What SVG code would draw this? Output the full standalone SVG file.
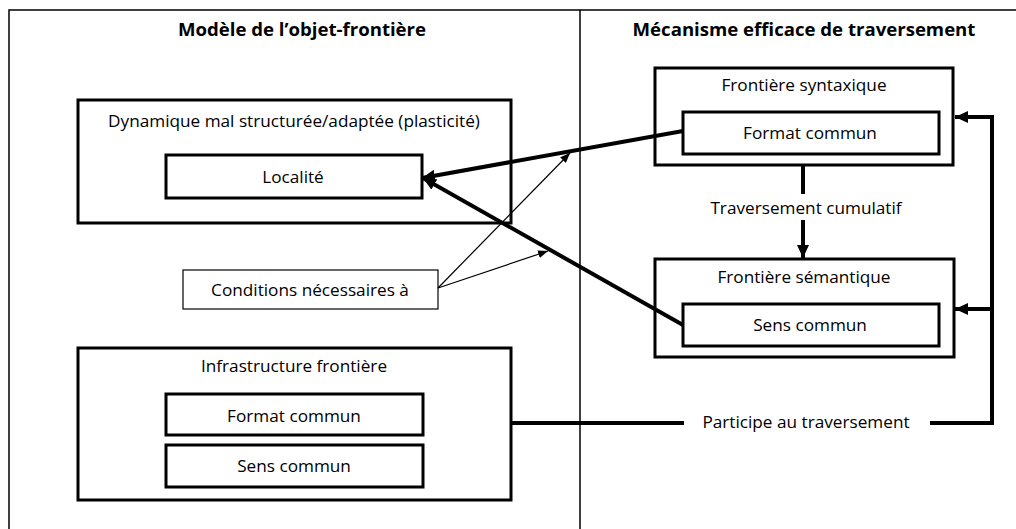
<svg xmlns="http://www.w3.org/2000/svg" width="1016" height="529" viewBox="0 0 1016 529">
  <style>
    .lbl { font-family: "Open Sans", "Liberation Sans", sans-serif; font-size: 17.2px; fill: #000; text-anchor: middle; }
    .ttl { font-family: "Open Sans", "Liberation Sans", sans-serif; font-size: 18.6px; font-weight: bold; fill: #000; text-anchor: middle; }
    .box { fill: #fff; stroke: #000; stroke-width: 3; }
    .thin { fill: #fff; stroke: #000; stroke-width: 1.2; }
    .frame { fill: none; stroke: #000; stroke-width: 1.5; }
    .heavy { fill: none; stroke: #000; stroke-width: 4; }
    .light { fill: none; stroke: #000; stroke-width: 1.2; }
  </style>
  <defs>
    <marker id="headBig" markerUnits="userSpaceOnUse" markerWidth="13" markerHeight="12" refX="13" refY="6" orient="auto">
      <path d="M0,0 L13,6 L0,12 z" fill="#000"/>
    </marker>
    <marker id="headSmall" markerUnits="userSpaceOnUse" markerWidth="10" markerHeight="8" refX="10" refY="4" orient="auto">
      <path d="M0,0 L10,4 L0,8 z" fill="#000"/>
    </marker>
  </defs>

  <rect width="1016" height="529" fill="#fff"/>

  <!-- two-column frame -->
  <g id="frame">
    <path class="frame" d="M9,529 V10 H1016"/>
    <line class="frame" x1="580" y1="10" x2="580" y2="529"/>
    <text class="ttl" x="302" y="36">Modèle de l’objet-frontière</text>
    <text class="ttl" x="804" y="36">Mécanisme efficace de traversement</text>
  </g>

  <!-- left column -->
  <g id="dynamique">
    <rect class="box" x="78" y="100" width="433" height="123"/>
    <text class="lbl" x="294" y="127">Dynamique mal structurée/adaptée (plasticité)</text>
  </g>
  <g id="localite">
    <rect class="box" x="166" y="155" width="256" height="43"/>
    <text class="lbl" x="293" y="183">Localité</text>
  </g>
  <g id="conditions">
    <rect class="thin" x="183" y="270" width="255" height="39"/>
    <text class="lbl" x="310" y="296">Conditions nécessaires à</text>
  </g>
  <g id="infrastructure">
    <rect class="box" x="78" y="348" width="433" height="152"/>
    <text class="lbl" x="294" y="372">Infrastructure frontière</text>
  </g>
  <g id="infra-format">
    <rect class="box" x="166" y="394" width="257" height="41"/>
    <text class="lbl" x="294" y="422">Format commun</text>
  </g>
  <g id="infra-sens">
    <rect class="box" x="166" y="445" width="257" height="42"/>
    <text class="lbl" x="294" y="472">Sens commun</text>
  </g>

  <!-- right column -->
  <g id="syntaxique">
    <rect class="box" x="655" y="68" width="298" height="97"/>
    <text class="lbl" x="804" y="91">Frontière syntaxique</text>
  </g>
  <g id="syntaxique-format">
    <rect class="box" x="683" y="112" width="256" height="42"/>
    <text class="lbl" x="810" y="139">Format commun</text>
  </g>
  <g id="semantique">
    <rect class="box" x="655" y="259" width="299" height="98"/>
    <text class="lbl" x="804" y="283">Frontière sémantique</text>
  </g>
  <g id="semantique-sens">
    <rect class="box" x="683" y="304" width="256" height="42"/>
    <text class="lbl" x="810" y="331">Sens commun</text>
  </g>

  <!-- connectors -->
  <g id="connectors">
    <line class="heavy" x1="683" y1="131" x2="422" y2="178" marker-end="url(#headBig)"/>
    <line class="heavy" x1="683" y1="325" x2="423" y2="178" marker-end="url(#headBig)"/>
    <line class="light" x1="438" y1="288" x2="570" y2="153" marker-end="url(#headSmall)"/>
    <line class="light" x1="438" y1="288" x2="548" y2="251" marker-end="url(#headSmall)"/>
    <line class="heavy" x1="803" y1="165" x2="803" y2="194"/>
    <line class="heavy" x1="803" y1="220" x2="803" y2="258" marker-end="url(#headBig)"/>
    <text class="lbl" x="806" y="214">Traversement cumulatif</text>
    <line class="heavy" x1="511" y1="423" x2="684" y2="423"/>
    <path class="heavy" d="M930,423 H992 V117 H955" marker-end="url(#headBig)"/>
    <line class="heavy" x1="992" y1="309" x2="955" y2="309" marker-end="url(#headBig)"/>
    <text class="lbl" x="806" y="428">Participe au traversement</text>
  </g>
</svg>
